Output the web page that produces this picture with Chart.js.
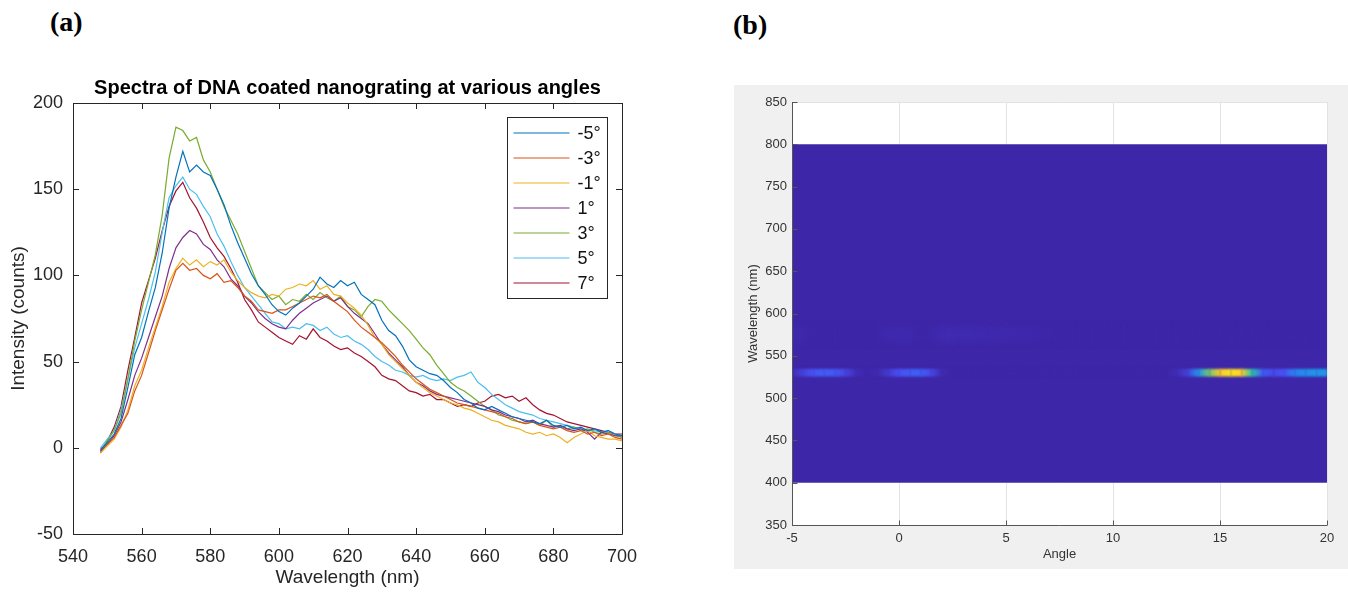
<!DOCTYPE html>
<html>
<head>
<meta charset="utf-8">
<script src="https://cdn.jsdelivr.net/npm/chart.js@4.4.1/dist/chart.umd.min.js"></script>
<style>
body { margin:0; width:1348px; height:595px; background:#fff; position:relative; overflow:hidden; font-family:"Liberation Sans", Arial, sans-serif; }
.panel-label { position:absolute; font:bold 28px "Liberation Serif", "Times New Roman", serif; line-height:28px; color:#000; }
#wrapA { position:absolute; left:0; top:0; width:700px; height:595px; }
#wrapB { position:absolute; left:734px; top:85px; width:614px; height:484px; background:#f0f0f0; }
</style>
</head>
<body>
<div class="panel-label" style="left:50px;top:8px">(a)</div>
<div class="panel-label" style="left:733px;top:11px">(b)</div>
<div id="wrapA"><canvas id="spectra" width="700" height="595"></canvas></div>
<div id="wrapB"><canvas id="heat" width="614" height="484"></canvas></div>
<script>
// ---- panel (a) data ----
const wavelengths = [548,550,552,554,556,558,560,562,564,566,
  568,570,572,574,576,578,580,582,584,586,
  588,590,592,594,596,598,600,602,604,606,
  608,610,612,614,616,618,620,622,624,626,
  628,630,632,634,636,638,640,642,644,646,
  648,650,652,654,656,658,660,662,664,666,
  668,670,672,674,676,678,680,682,684,686,
  688,690,692,694,696,698,700]

const angleLabels = ['-5°','-3°','-1°','1°','3°','5°','7°']

const intensityM5 = [-1,3,8,17,35,54,64,79,93,113,
  139,157,172,160,164,160,158,150,141,129,
  119,110,101,94,89,83,79,77,81,84,
  88,92,99,95,93,97,94,96,89,86,
  83,74,68,65,59,51,47,45,43,42,
  39,35,32,28,26,23,22,24,22,20,
  18,17,16,15,14,16,13,12,13,11,
  12,10,11,9,10,8,7]
const intensityM3 = [-1,2,6,13,20,33,42,55,68,80,
  92,103,107,103,104,100,98,101,96,97,
  93,88,85,80,79,78,80,80,82,84,
  86,88,87,89,85,82,79,74,70,67,
  64,61,57,53,48,44,40,37,34,32,
  30,28,26,25,24,23,22,21,20,18,
  17,15,14,15,13,12,11,12,10,9,
  10,8,9,7,8,6,5]
const intensityM1 = [-3,1,5,12,22,36,45,58,70,82,
  96,104,110,106,109,105,108,106,109,102,
  97,93,90,88,87,89,88,92,93,95,
  94,97,92,94,89,88,84,81,77,71,
  64,60,54,50,46,42,38,35,32,30,
  28,26,25,23,22,20,18,16,15,13,
  12,11,9,8,9,7,8,6,3,6,
  8,10,7,6,5,5,4]
const intensityP1 = [-2,2,7,15,28,42,52,64,76,88,
  104,116,122,126,124,118,115,109,105,98,
  94,88,84,79,75,72,70,69,74,78,
  81,84,86,88,85,87,82,78,75,72,
  66,60,55,51,47,42,38,36,33,31,
  30,29,28,27,26,25,24,22,21,19,
  18,17,15,16,14,13,12,13,11,10,
  11,9,5,9,8,7,7]
const intensityP3 = [-2,4,10,20,40,62,80,96,112,135,
  168,186,184,178,180,167,160,150,140,132,
  124,114,104,94,90,86,88,83,86,85,
  89,86,90,87,85,88,82,80,76,82,
  86,85,80,76,72,68,63,58,54,48,
  43,38,35,33,30,27,24,22,19,18,
  16,15,14,15,13,16,12,13,11,12,
  10,11,9,8,9,7,6]
const intensityP5 = [0,5,10,22,40,58,72,86,102,125,
  145,152,157,150,147,140,134,124,117,108,
  100,93,88,83,78,73,72,69,70,69,
  72,71,68,70,66,64,65,62,60,57,
  53,50,48,45,44,42,41,42,40,39,
  40,39,41,42,44,38,35,31,28,25,
  23,21,20,19,17,16,15,14,13,12,
  11,10,10,9,10,8,6]
const intensityP7 = [-3,4,12,24,45,64,84,97,110,126,
  140,149,154,145,139,131,122,116,111,104,
  96,86,80,73,70,67,64,62,60,65,
  63,69,64,62,59,57,58,55,53,50,
  47,42,40,39,36,33,32,30,31,28,
  28,26,24,25,24,26,27,30,31,29,
  30,27,29,25,22,20,19,17,15,14,
  13,12,11,10,9,8,8]

const xTicksA = [540, 700, 20]   // min, max, step
const yTicksA = [-50, 200, 50]

// ---- panel (b) data ----
const heatAngles = [-5,-4.5,-4,-3.5,-3,-2.5,-2,-1.5,-1,-0.5,
  0,0.5,1,1.5,2,2.5,3,3.5,4,4.5,
  5,5.5,6,6.5,7,7.5,8,8.5,9,9.5,
  10,10.5,11,11.5,12,12.5,13,13.5,14,14.5,
  15,15.5,16,16.5,17,17.5,18,18.5,19,19.5,20]
const heatRange = [400, 800]        // wavelength span of the map (nm)
const band530Rows = [525.5, 534.5]  // nm
const band575Rows = [567, 584]      // nm
const band530 = [0.02,0.08,0.13,0.15,0.14,0.09,0.02,0,0.01,0.06,
  0.12,0.15,0.16,0.1,0.01,0,0,0,0,0,
  0,0,0,0,0,0,0,0,0,0,
  0,0,0,0,0,0,0.02,0.08,0.3,0.6,
  0.85,0.93,0.88,0.5,0.15,0.1,0.13,0.25,0.28,0.3,0.3]
const band575 = [0.012,0.01,0,0,0,0,0,0,0,0.01,
  0.012,0.01,0,0,0.018,0.018,0.015,0.014,0.012,0.01,
  0.008,0.008,0.006,0.004,0.003,0,0,0,0,0,
  0,0,0,0,0,0,0,0,0,0,
  0,0,0,0,0,0,0,0,0,0,0]

const xTicksB = [-5, 20, 5]
const yTicksB = [350, 850, 50]

const lineColors = ['#0072BD','#D95319','#EDB120','#7E2F8E','#77AC30','#4DBEEE','#A2142F']
const axisFont = '"Liberation Sans", Arial, sans-serif'

function pts(vals) {
  return vals.map((v, i) => ({x: wavelengths[i], y: v}))
}

// matlab style box with inward ticks
const boxFrame = {
  id: 'boxFrame',
  afterDatasetsDraw(chart) {
    const {ctx, chartArea: a, scales: {x, y}} = chart
    ctx.save()
    ctx.strokeStyle = '#262626'
    ctx.lineWidth = 1
    ctx.beginPath()
    ctx.rect(Math.round(a.left) + 0.5, Math.round(a.top) + 0.5, Math.round(a.right - a.left), Math.round(a.bottom - a.top))
    x.ticks.forEach(t => {
      const px = Math.round(x.getPixelForValue(t.value)) + 0.5
      ctx.moveTo(px, a.bottom); ctx.lineTo(px, a.bottom - 6)
      ctx.moveTo(px, a.top); ctx.lineTo(px, a.top + 6)
    })
    y.ticks.forEach(t => {
      const py = Math.round(y.getPixelForValue(t.value)) + 0.5
      ctx.moveTo(a.left, py); ctx.lineTo(a.left + 6, py)
      ctx.moveTo(a.right, py); ctx.lineTo(a.right - 6, py)
    })
    ctx.stroke()
    ctx.restore()
  }
}

// legend box in the upper right corner
const boxLegend = {
  id: 'boxLegend',
  afterDraw(chart) {
    const {ctx, chartArea: a} = chart
    const sets = chart.data.datasets
    const w = 100, h = 181
    const left = Math.round(a.right - 15 - w) + 0.5, top = Math.round(a.top + 14) + 0.5
    ctx.save()
    ctx.fillStyle = '#fff'
    ctx.fillRect(left, top, w, h)
    ctx.strokeStyle = '#262626'
    ctx.strokeRect(left, top, w, h)
    ctx.font = '18px ' + axisFont
    ctx.textBaseline = 'middle'
    sets.forEach((ds, i) => {
      const yy = top + 15.5 + i * 25
      ctx.strokeStyle = ds.borderColor
      ctx.lineWidth = 1.2
      ctx.beginPath(); ctx.moveTo(left + 6, yy); ctx.lineTo(left + 62, yy); ctx.stroke()
      ctx.fillStyle = '#111'
      ctx.fillText(ds.label, left + 70, yy + 1)
    })
    ctx.restore()
  }
}

new Chart(document.getElementById('spectra'), {
  type: 'line',
  data: {
    datasets: [intensityM5, intensityM3, intensityM1, intensityP1, intensityP3, intensityP5, intensityP7].map((vals, i) => ({
      label: angleLabels[i],
      data: pts(vals),
      borderColor: lineColors[i],
      borderWidth: 1.2,
      pointRadius: 0,
      tension: 0
    }))
  },
  options: {
    responsive: false,
    animation: false,
    devicePixelRatio: 1,
    layout: {padding: {left: 0, top: 0, right: 78, bottom: 0}},
    plugins: {
      legend: {display: false},
      tooltip: {enabled: false},
      title: {
        display: true,
        fullSize: false,
        text: 'Spectra of DNA coated nanograting at various angles',
        color: '#000',
        font: {family: axisFont, size: 20, weight: 'bold'},
        padding: {top: 76, bottom: 3}
      }
    },
    scales: {
      x: {
        type: 'linear', min: xTicksA[0], max: xTicksA[1],
        ticks: {stepSize: xTicksA[2], color: '#262626', font: {family: axisFont, size: 18}, padding: 12, maxRotation: 0},
        grid: {display: false, drawTicks: false},
        border: {display: false},
        title: {display: true, text: 'Wavelength (nm)', color: '#262626', font: {family: axisFont, size: 19}, padding: {top: 0, bottom: 6}},
        afterFit(s) { s.height = 61 }
      },
      y: {
        min: yTicksA[0], max: yTicksA[1],
        ticks: {stepSize: yTicksA[2], color: '#262626', font: {family: axisFont, size: 18}, padding: 10},
        grid: {display: false, drawTicks: false},
        border: {display: false},
        title: {display: true, text: 'Intensity (counts)', color: '#262626', font: {family: axisFont, size: 19}, padding: {top: 7, bottom: 0}},
        afterFit(s) { s.width = 73 }
      }
    }
  },
  plugins: [boxFrame, boxLegend]
})

// ---- panel (b) ----
const parulaStops = [
  [0.00, 62, 38, 168], [0.12, 72, 80, 244], [0.25, 40, 130, 240], [0.37, 20, 175, 220],
  [0.50, 40, 195, 170], [0.62, 130, 200, 100], [0.75, 220, 185, 50], [0.87, 252, 205, 45],
  [1.00, 249, 251, 14]
]
function parula(v) {
  v = Math.max(0, Math.min(1, v))
  for (let i = 1; i < parulaStops.length; i++) {
    const a = parulaStops[i - 1], b = parulaStops[i]
    if (v <= b[0]) {
      const t = (v - a[0]) / (b[0] - a[0])
      return 'rgb(' + [1, 2, 3].map(k => Math.round(a[k] + (b[k] - a[k]) * t)).join(',') + ')'
    }
  }
  return 'rgb(249,251,14)'
}

function drawBand(ctx, x, y, vals, rows) {
  const yTop = y.getPixelForValue(rows[1]), yBot = y.getPixelForValue(rows[0])
  for (let i = 0; i < heatAngles.length - 1; i++) {
    const xa = x.getPixelForValue(heatAngles[i]), xb = x.getPixelForValue(heatAngles[i + 1])
    const g = ctx.createLinearGradient(xa, 0, xb, 0)
    g.addColorStop(0, parula(vals[i]))
    g.addColorStop(1, parula(vals[i + 1]))
    ctx.fillStyle = g
    ctx.fillRect(xa, yTop, xb - xa + 0.6, yBot - yTop)
  }
}

const heatmap = {
  id: 'heatmap',
  beforeDraw(chart) {
    const {ctx, chartArea: a} = chart
    ctx.save()
    ctx.fillStyle = '#fff'
    ctx.fillRect(a.left, a.top, a.right - a.left, a.bottom - a.top)
    ctx.restore()
  },
  beforeDatasetsDraw(chart) {
    const {ctx, scales: {x, y}} = chart
    const x0 = x.getPixelForValue(heatAngles[0]), x1 = x.getPixelForValue(heatAngles[heatAngles.length - 1])
    const yTop = y.getPixelForValue(heatRange[1]), yBot = y.getPixelForValue(heatRange[0])
    ctx.save()
    ctx.fillStyle = parula(0)
    ctx.fillRect(x0, yTop, x1 - x0, yBot - yTop)
    ctx.beginPath()
    ctx.rect(x0, yTop, x1 - x0, yBot - yTop)
    ctx.clip()
    ctx.filter = 'blur(3px)'
    drawBand(ctx, x, y, band575, band575Rows)
    ctx.filter = 'blur(1.2px)'
    drawBand(ctx, x, y, band530, band530Rows)
    ctx.restore()
  },
  afterDraw(chart) {
    const {ctx, chartArea: a, scales: {x, y}} = chart
    ctx.save()
    ctx.strokeStyle = '#555'
    ctx.lineWidth = 1
    const L = Math.round(a.left) + 0.5, B = Math.round(a.bottom) + 0.5
    ctx.beginPath()
    ctx.moveTo(L, a.top); ctx.lineTo(L, B); ctx.lineTo(a.right, B)
    x.ticks.forEach(t => {
      const px = Math.round(x.getPixelForValue(t.value)) + 0.5
      ctx.moveTo(px, B); ctx.lineTo(px, B - 5)
    })
    y.ticks.forEach(t => {
      const py = Math.round(y.getPixelForValue(t.value)) + 0.5
      ctx.moveTo(L, py); ctx.lineTo(L + 5, py)
    })
    ctx.stroke()
    ctx.restore()
  }
}

new Chart(document.getElementById('heat'), {
  type: 'scatter',
  data: {datasets: []},
  options: {
    responsive: false,
    animation: false,
    devicePixelRatio: 1,
    layout: {padding: {left: 0, top: 17, right: 21, bottom: 0}},
    plugins: {legend: {display: false}, tooltip: {enabled: false}},
    scales: {
      x: {
        type: 'linear', min: xTicksB[0], max: xTicksB[1],
        ticks: {stepSize: xTicksB[2], color: '#333', font: {family: axisFont, size: 13}, padding: 6, maxRotation: 0},
        grid: {color: '#e3e3e3', drawTicks: false},
        border: {display: false},
        title: {display: true, text: 'Angle', color: '#333', font: {family: axisFont, size: 13}, padding: {top: 0, bottom: 7}},
        afterFit(s) { s.height = 44 }
      },
      y: {
        type: 'linear', min: yTicksB[0], max: yTicksB[1],
        ticks: {stepSize: yTicksB[2], color: '#333', font: {family: axisFont, size: 13}, padding: 5},
        grid: {color: '#e3e3e3', drawTicks: false},
        border: {display: false},
        title: {display: true, text: 'Wavelength (nm)', color: '#333', font: {family: axisFont, size: 13}, padding: {top: 12, bottom: 0}},
        afterFit(s) { s.width = 58 }
      }
    }
  },
  plugins: [heatmap]
})
</script>
</body>
</html>
